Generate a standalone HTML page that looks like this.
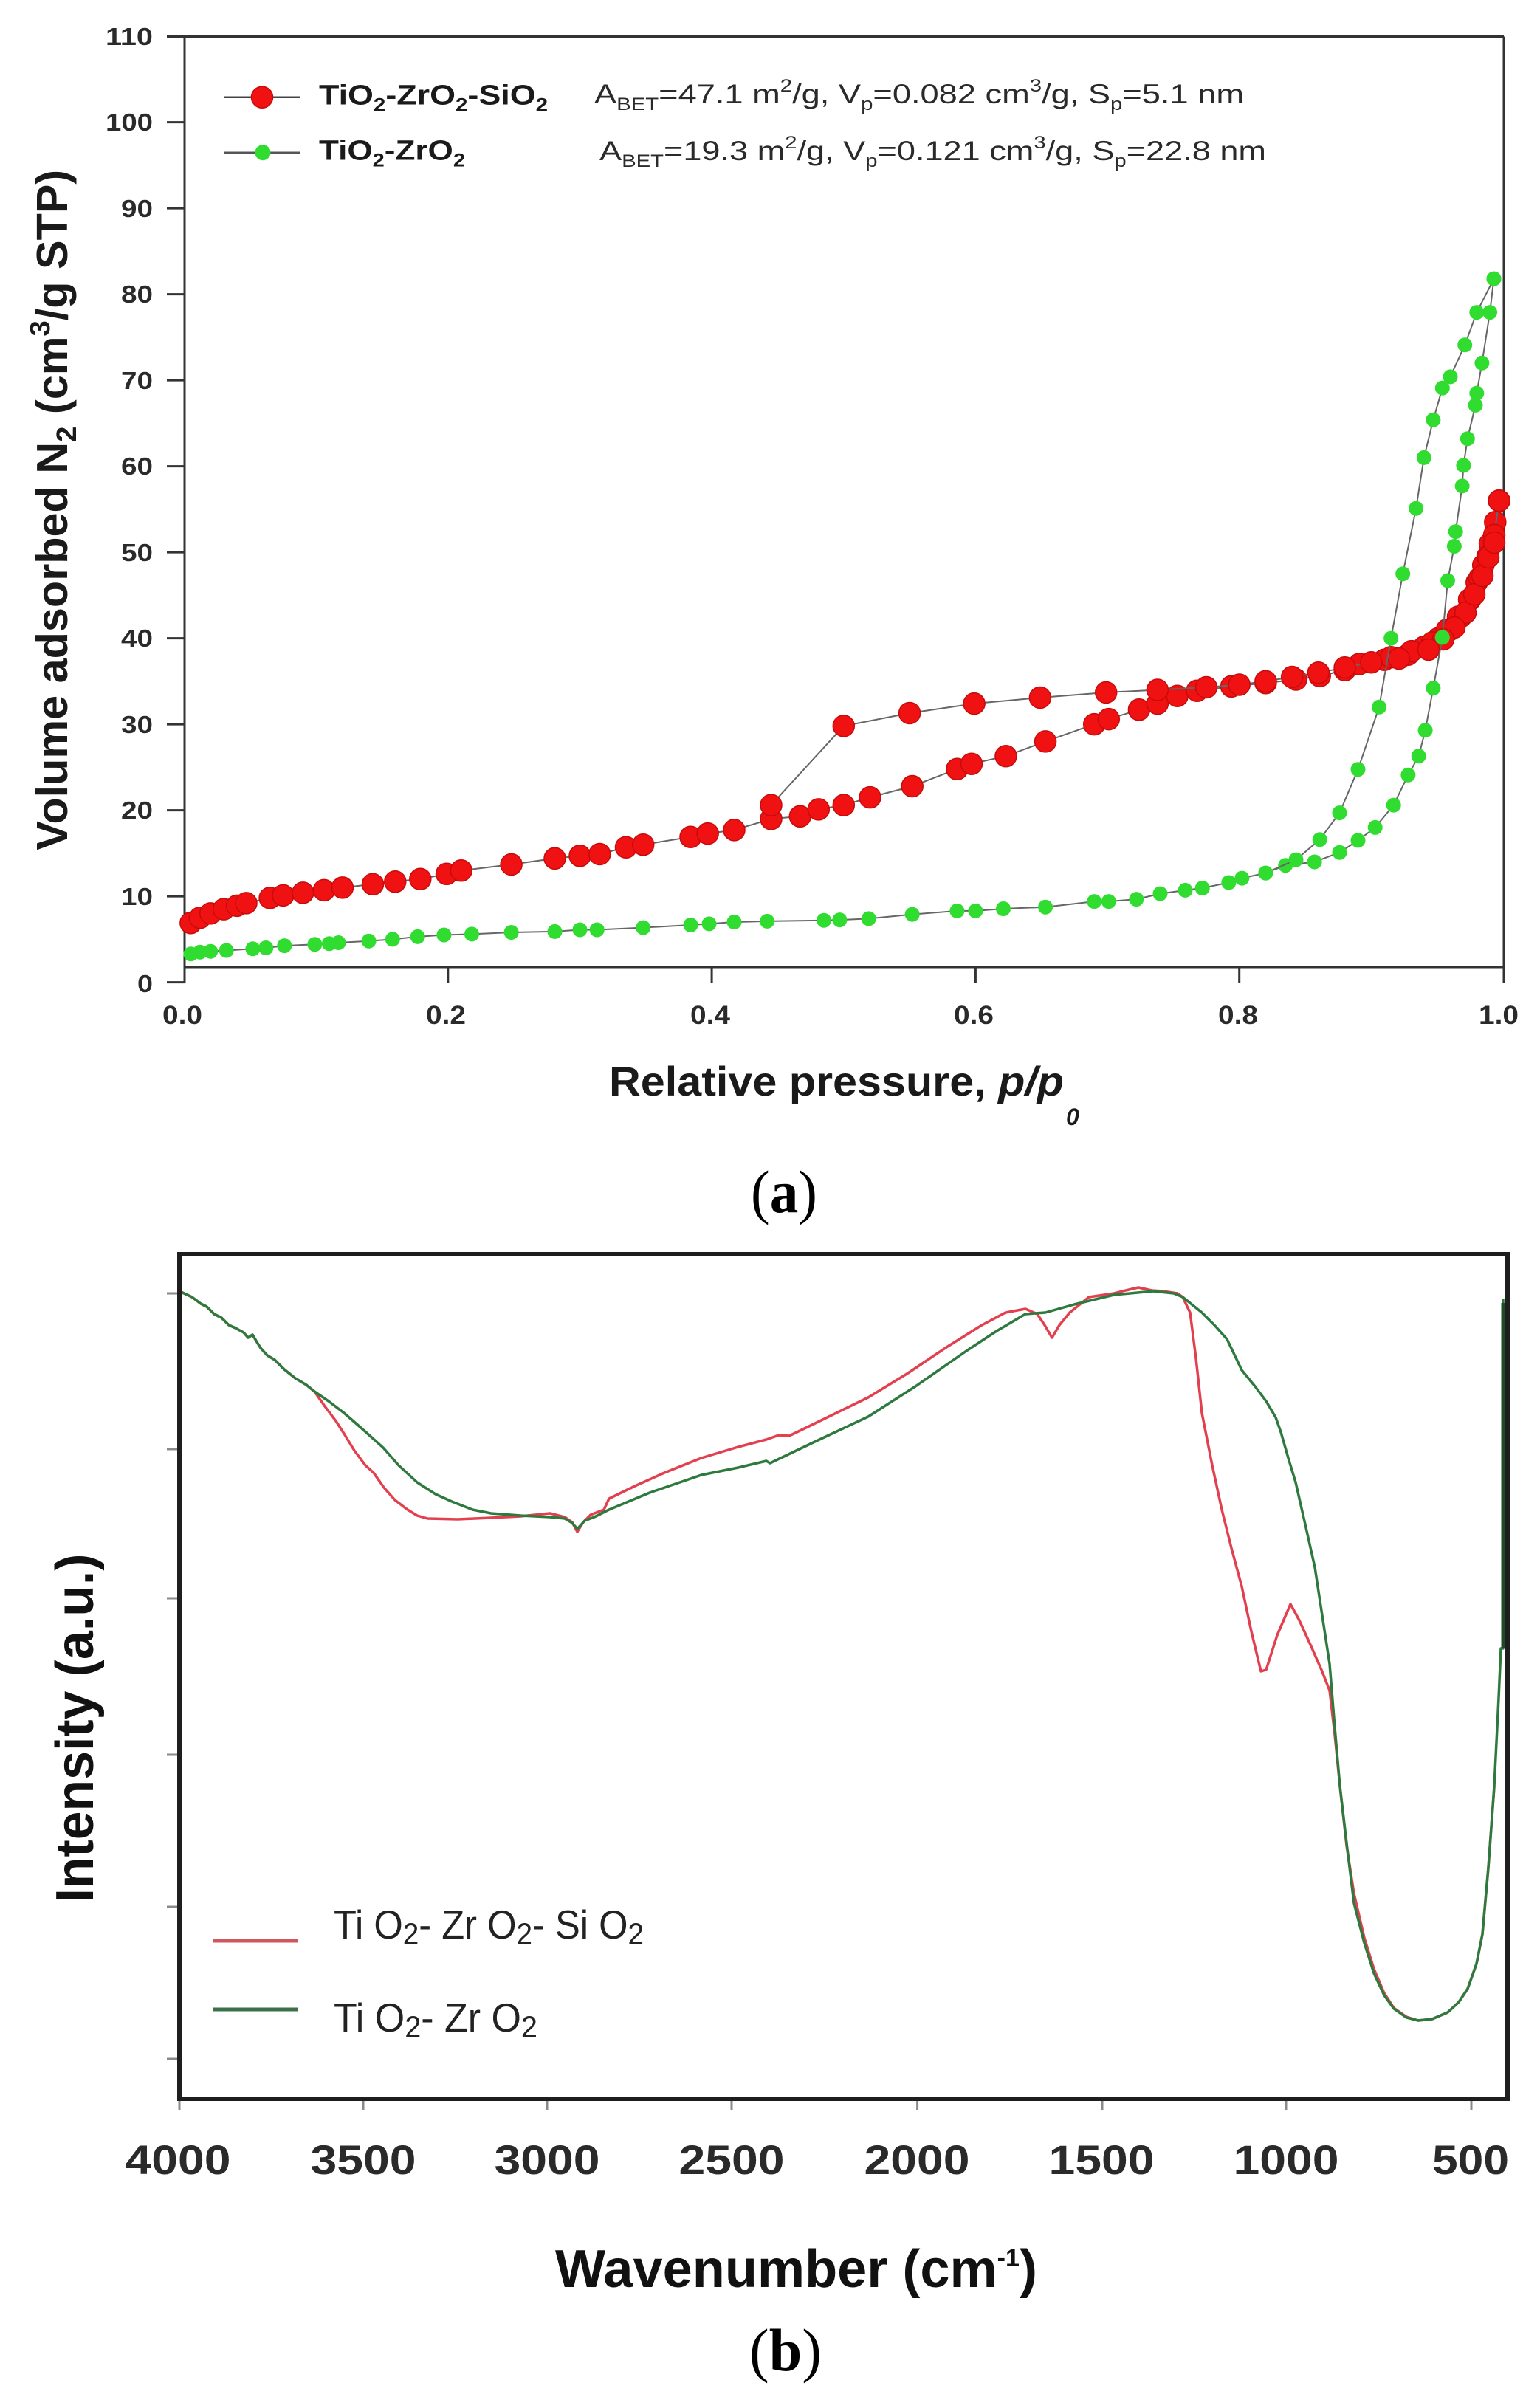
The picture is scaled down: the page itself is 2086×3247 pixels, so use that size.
<!DOCTYPE html>
<html>
<head>
<meta charset="utf-8">
<style>
html,body{margin:0;padding:0;background:#ffffff;}
body{width:2086px;height:3247px;overflow:hidden;}
svg{display:block;}
</style>
</head>
<body>
<svg xmlns="http://www.w3.org/2000/svg" width="2086" height="3247" viewBox="0 0 2086 3247">
<defs>
<marker id="mr" markerUnits="userSpaceOnUse" markerWidth="34" markerHeight="34" refX="17" refY="17" overflow="visible">
<circle cx="17" cy="17" r="14.5" fill="#f01212" stroke="#c80a0a" stroke-width="1.5"/>
</marker>
<marker id="mg" markerUnits="userSpaceOnUse" markerWidth="24" markerHeight="24" refX="12" refY="12" overflow="visible">
<circle cx="12" cy="12" r="10" fill="#2fdc2f"/>
</marker>
</defs>
<rect width="2086" height="3247" fill="#ffffff"/>

<!-- ================= Chart (a) ================= -->
<g stroke="#333" stroke-width="3" fill="none">
<line x1="226" y1="49.5" x2="2037" y2="49.5"/>
<line x1="250" y1="49.5" x2="250" y2="1331"/>
<line x1="2037" y1="49.5" x2="2037" y2="1331"/>
<line x1="250" y1="1310" x2="2037" y2="1310"/>
<!-- y ticks -->
<line x1="226" y1="165.6" x2="250" y2="165.6"/>
<line x1="226" y1="282.1" x2="250" y2="282.1"/>
<line x1="226" y1="398.6" x2="250" y2="398.6"/>
<line x1="226" y1="515.1" x2="250" y2="515.1"/>
<line x1="226" y1="631.6" x2="250" y2="631.6"/>
<line x1="226" y1="748.1" x2="250" y2="748.1"/>
<line x1="226" y1="864.6" x2="250" y2="864.6"/>
<line x1="226" y1="981.1" x2="250" y2="981.1"/>
<line x1="226" y1="1097.6" x2="250" y2="1097.6"/>
<line x1="226" y1="1214.1" x2="250" y2="1214.1"/>
<line x1="226" y1="1330.6" x2="250" y2="1330.6"/>
<!-- x ticks -->
<line x1="606.8" y1="1310" x2="606.8" y2="1331"/>
<line x1="964.1" y1="1310" x2="964.1" y2="1331"/>
<line x1="1321.4" y1="1310" x2="1321.4" y2="1331"/>
<line x1="1678.7" y1="1310" x2="1678.7" y2="1331"/>
</g>

<g font-family="Liberation Sans, Arial, sans-serif" font-weight="bold" font-size="33" fill="#2a2a2a" text-anchor="end">
<text x="207" y="61" textLength="64" lengthAdjust="spacingAndGlyphs">110</text>
<text x="207" y="177" textLength="64" lengthAdjust="spacingAndGlyphs">100</text>
<text x="207" y="294" textLength="43" lengthAdjust="spacingAndGlyphs">90</text>
<text x="207" y="410" textLength="43" lengthAdjust="spacingAndGlyphs">80</text>
<text x="207" y="527" textLength="43" lengthAdjust="spacingAndGlyphs">70</text>
<text x="207" y="643" textLength="43" lengthAdjust="spacingAndGlyphs">60</text>
<text x="207" y="760" textLength="43" lengthAdjust="spacingAndGlyphs">50</text>
<text x="207" y="876" textLength="43" lengthAdjust="spacingAndGlyphs">40</text>
<text x="207" y="993" textLength="43" lengthAdjust="spacingAndGlyphs">30</text>
<text x="207" y="1109" textLength="43" lengthAdjust="spacingAndGlyphs">20</text>
<text x="207" y="1226" textLength="43" lengthAdjust="spacingAndGlyphs">10</text>
<text x="207" y="1344" textLength="21" lengthAdjust="spacingAndGlyphs">0</text>
</g>
<g font-family="Liberation Sans, Arial, sans-serif" font-weight="bold" font-size="35" fill="#2a2a2a" text-anchor="middle">
<text x="247" y="1387" textLength="54" lengthAdjust="spacingAndGlyphs">0.0</text>
<text x="604" y="1387" textLength="54" lengthAdjust="spacingAndGlyphs">0.2</text>
<text x="962" y="1387" textLength="54" lengthAdjust="spacingAndGlyphs">0.4</text>
<text x="1319" y="1387" textLength="54" lengthAdjust="spacingAndGlyphs">0.6</text>
<text x="1677" y="1387" textLength="54" lengthAdjust="spacingAndGlyphs">0.8</text>
<text x="2030" y="1387" textLength="54" lengthAdjust="spacingAndGlyphs">1.0</text>
</g>

<!-- axis titles (a) -->
<text x="825" y="1484" font-family="Liberation Sans, Arial, sans-serif" font-weight="bold" font-size="56" fill="#1a1a1a" textLength="616" lengthAdjust="spacingAndGlyphs">Relative pressure, <tspan font-style="italic">p/p</tspan></text>
<text x="1444" y="1524" font-family="Liberation Sans, Arial, sans-serif" font-weight="bold" font-style="italic" font-size="32" fill="#1a1a1a">0</text>

<text x="91" y="690.8" transform="rotate(-90 91 690.8)" text-anchor="middle" font-family="Liberation Sans, Arial, sans-serif" font-weight="bold" font-size="59" fill="#1a1a1a" textLength="922" lengthAdjust="spacingAndGlyphs">Volume adsorbed N<tspan font-size="38" dy="12">2</tspan><tspan dy="-12"> (cm</tspan><tspan font-size="38" dy="-24">3</tspan><tspan dy="24">/g STP)</tspan></text>

<!-- legend (a) -->
<line x1="303" y1="131.7" x2="407" y2="131.7" stroke="#444" stroke-width="2.5"/>
<circle cx="355" cy="131.7" r="14.5" fill="#f01212" stroke="#c80a0a" stroke-width="1.5"/>
<line x1="303" y1="206.7" x2="407" y2="206.7" stroke="#555" stroke-width="2.5"/>
<circle cx="356" cy="206.7" r="10.5" fill="#2fdc2f"/>
<g font-family="Liberation Sans, Arial, sans-serif" font-weight="bold" font-size="38" fill="#1a1a1a">
<text x="432" y="141.7" textLength="310" lengthAdjust="spacingAndGlyphs">TiO<tspan font-size="25" dy="9">2</tspan><tspan dy="-9">-ZrO</tspan><tspan font-size="25" dy="9">2</tspan><tspan dy="-9">-SiO</tspan><tspan font-size="25" dy="9">2</tspan></text>
<text x="432" y="216.7" textLength="198" lengthAdjust="spacingAndGlyphs">TiO<tspan font-size="25" dy="9">2</tspan><tspan dy="-9">-ZrO</tspan><tspan font-size="25" dy="9">2</tspan></text>
</g>
<g font-family="Liberation Sans, Arial, sans-serif" font-size="37" fill="#2a2a2a">
<text x="805" y="140" textLength="880" lengthAdjust="spacingAndGlyphs">A<tspan font-size="24" dy="9">BET</tspan><tspan dy="-9">=47.1 m</tspan><tspan font-size="24" dy="-16">2</tspan><tspan dy="16">/g, V</tspan><tspan font-size="24" dy="9">p</tspan><tspan dy="-9">=0.082 cm</tspan><tspan font-size="24" dy="-16">3</tspan><tspan dy="16">/g, S</tspan><tspan font-size="24" dy="9">p</tspan><tspan dy="-9">=5.1 nm</tspan></text>
<text x="812" y="217" textLength="903" lengthAdjust="spacingAndGlyphs">A<tspan font-size="24" dy="9">BET</tspan><tspan dy="-9">=19.3 m</tspan><tspan font-size="24" dy="-16">2</tspan><tspan dy="16">/g, V</tspan><tspan font-size="24" dy="9">p</tspan><tspan dy="-9">=0.121 cm</tspan><tspan font-size="24" dy="-16">3</tspan><tspan dy="16">/g, S</tspan><tspan font-size="24" dy="9">p</tspan><tspan dy="-9">=22.8 nm</tspan></text>
</g>

<!-- data (a): red -->
<g fill="none" stroke="#666" stroke-width="2">
<polyline marker-start="url(#mr)" marker-mid="url(#mr)" marker-end="url(#mr)" points="258.4,1250.2 270.9,1243.2 285.2,1237.4 303.1,1231.6 321.0,1226.9 333.5,1223.4 365.6,1216.4 383.5,1212.9 410.3,1209.4 438.9,1205.9 463.9,1202.4 505.0,1197.8 535.3,1194.3 569.3,1190.8 605.0,1183.8 624.7,1179.2 692.6,1171.0 751.5,1162.8 785.5,1159.3 812.3,1157.0 848.0,1147.7 871.2,1144.2 935.5,1133.7 958.7,1129.1 994.5,1124.4 1044.5,1109.3 1083.8,1105.8 1108.8,1096.4 1142.8,1090.6 1178.5,1080.1 1235.7,1065.0 1296.4,1041.7 1316.0,1034.7 1362.5,1024.2 1416.1,1004.4 1482.2,981.1 1501.8,974.1 1542.9,961.3 1567.9,953.1 1594.7,942.7 1621.5,935.7 1668.0,929.8 1714.4,925.2 1755.5,920.5 1787.7,915.9 1821.6,907.7 1841.3,899.5 1875.2,893.7 1907.4,886.7 1928.8,876.3 1948.4,864.6 1964.5,853.0 1978.8,835.5 1991.3,812.2 2000.3,788.9 2009.2,765.6 2018.1,736.5 2025.3,707.3 2030.6,678.2"/>
<polyline marker-start="url(#mr)" marker-mid="url(#mr)" marker-end="url(#mr)" points="2030.6,678.2 2024,724.8 2015,753.9 2004,783.1 1990,812.2 1975,835.5 1960,853.0 1940,870.4 1912,882.1 1884.2,890.2 1857.4,897.2 1821.6,904.2 1785.9,911.2 1750.2,917.0 1714.4,922.9 1678.7,927.5 1634.0,931.0 1567.9,934.5 1498.2,938.0 1408.9,945.0 1319.6,953.1 1232.1,966.0 1142.8,983.4 1044.5,1090.6"/>
</g>
<!-- extra red density near p~1 -->
<g fill="#f01212" stroke="#c80a0a" stroke-width="1.5">
<circle cx="1985" cy="830" r="14.5"/><circle cx="1997" cy="805" r="14.5"/><circle cx="2008" cy="780" r="14.5"/>
<circle cx="2016" cy="755" r="14.5"/><circle cx="2024" cy="735" r="14.5"/><circle cx="1970" cy="850" r="14.5"/>
<circle cx="1955" cy="866" r="14.5"/><circle cx="1935" cy="880" r="14.5"/><circle cx="1895" cy="892" r="14.5"/>
</g>

<!-- data (a): green -->
<g fill="none" stroke="#666" stroke-width="2">
<polyline marker-start="url(#mg)" marker-mid="url(#mg)" marker-end="url(#mg)" points="258.4,1292.2 270.9,1289.8 285.2,1288.7 306.7,1287.5 342.4,1285.2 360.3,1284.0 385.3,1281.1 426.4,1279.3 446.0,1278.2 458.5,1277.0 499.6,1274.7 531.8,1272.4 565.7,1268.9 601.4,1266.5 639.0,1265.4 692.6,1263.0 751.5,1261.9 785.5,1259.5 808.7,1259.5 871.2,1256.6 935.5,1253.0 960.5,1251.4 994.5,1249.0 1039.1,1247.9 1116.0,1246.7 1137.4,1246.1 1176.7,1244.4 1235.7,1238.6 1296.4,1233.9 1321.4,1233.9 1359.0,1231.0 1416.1,1228.7 1482.2,1221.1 1501.8,1221.1 1539.3,1218.1 1571.5,1210.6 1605.5,1205.9 1628.7,1203.0 1664.4,1195.5 1682.3,1189.6 1714.4,1182.6 1741.2,1172.2 1780.6,1167.5 1814.5,1154.7 1839.5,1138.4 1862.7,1120.9 1887.7,1090.6 1907.4,1049.8 1921.7,1024.2 1930.6,989.3 1941.4,932.2 1953.8,863.4 1961.0,786.5 1969.9,740.0 1971.7,720.1 1980.6,658.4 1982.4,630.4 1987.8,594.3 1998.5,548.9 2000.3,532.6 2007.4,491.8 2018.1,423.1 2023.5,377.6"/>
<polyline marker-start="url(#mg)" marker-mid="url(#mg)" marker-end="url(#mg)" points="2023.5,377.6 2000.3,423.1 1984.2,467.3 1964.5,510.4 1953.8,525.6 1941.4,568.7 1928.8,619.9 1918.1,688.7 1900.2,777.2 1884.2,864.6 1868.1,957.8 1839.5,1042.2 1814.5,1101.1 1787.7,1137.2 1755.5,1164.6 1714.4,1182.6"/>
</g>

<!-- caption (a) -->
<text x="1062" y="1642" text-anchor="middle" font-family="Liberation Serif, Times New Roman, serif" font-size="82" fill="#000" textLength="90" lengthAdjust="spacingAndGlyphs">(<tspan font-weight="bold">a</tspan>)</text>

<!-- ================= Chart (b) ================= -->
<!-- curves -->
<g fill="none" stroke-width="3.5" stroke-linejoin="round">
<polyline stroke="#e2404e" points="243,1749 260,1757 272,1766 280,1770 290,1780 300,1785 310,1795 319,1799 330,1805 336,1812 342,1808 348,1818 353,1826 362,1836 372,1842 385,1855 400,1867 415,1876 426,1885 440,1905 455,1925 466,1942 480,1965 495,1985 506,1995 520,2015 535,2032 552,2045 565,2053 579,2057 620,2058 665,2056 705,2054 745,2050 765,2055 775,2062 782,2075 790,2062 800,2052 818,2045 825,2030 860,2013 900,1995 950,1975 1000,1960 1038,1950 1055,1944 1069,1945 1100,1930 1176,1893 1230,1860 1282,1825 1330,1795 1362,1778 1389,1773 1405,1780 1415,1795 1425,1812 1435,1795 1449,1778 1475,1757 1509,1752 1525,1748 1542,1744 1560,1748 1575,1749 1595,1752 1602,1757 1612,1778 1620,1840 1628,1914 1642,1985 1655,2045 1668,2097 1682,2149 1695,2210 1708,2264 1715,2262 1730,2215 1748,2173 1760,2195 1775,2228 1790,2262 1801,2290 1808,2350 1815,2420 1824,2500 1834,2565 1848,2625 1861,2667 1875,2700 1888,2720 1905,2732 1921,2737 1940,2735 1961,2726 1976,2712 1988,2694 2000,2660 2008,2620 2016,2530 2024,2420"/>
<polyline stroke="#2e7a3e" points="243,1749 260,1757 272,1766 280,1770 290,1780 300,1785 310,1795 319,1799 330,1805 336,1812 342,1808 348,1818 353,1826 362,1836 372,1842 385,1855 400,1867 415,1876 426,1885 445,1898 466,1914 490,1935 519,1961 540,1985 565,2008 590,2024 612,2034 640,2045 665,2050 705,2053 745,2055 765,2057 775,2063 782,2071 792,2060 805,2055 825,2045 880,2022 950,1998 1000,1988 1038,1979 1043,1982 1110,1950 1176,1919 1240,1878 1309,1830 1350,1803 1389,1780 1416,1778 1455,1767 1509,1754 1562,1749 1590,1752 1602,1757 1628,1778 1645,1795 1662,1814 1672,1835 1682,1856 1700,1878 1715,1898 1728,1920 1735,1940 1745,1975 1755,2008 1768,2065 1781,2123 1801,2254 1808,2340 1815,2420 1825,2505 1834,2578 1848,2632 1861,2673 1875,2703 1888,2721 1905,2733 1921,2737 1940,2735 1961,2726 1976,2712 1988,2694 2000,2660 2008,2620 2016,2530 2024,2420 2030,2300 2033,2233 2036,2233 2036,1760"/>
</g>
<line x1="2036" y1="1765" x2="2036" y2="2233" stroke="#1f4a25" stroke-width="5"/>

<!-- frame -->
<rect x="243" y="1699" width="1799" height="1144" fill="none" stroke="#1e1e1e" stroke-width="6"/>
<!-- ticks -->
<g stroke="#8a8a8a" stroke-width="3">
<line x1="226" y1="1752" x2="240" y2="1752"/>
<line x1="226" y1="1963" x2="240" y2="1963"/>
<line x1="226" y1="2165" x2="240" y2="2165"/>
<line x1="226" y1="2377" x2="240" y2="2377"/>
<line x1="226" y1="2583" x2="240" y2="2583"/>
<line x1="226" y1="2789" x2="240" y2="2789"/>
<line x1="243" y1="2846" x2="243" y2="2858"/>
<line x1="492" y1="2846" x2="492" y2="2858"/>
<line x1="741" y1="2846" x2="741" y2="2858"/>
<line x1="991" y1="2846" x2="991" y2="2858"/>
<line x1="1242.6" y1="2846" x2="1242.6" y2="2858"/>
<line x1="1493" y1="2846" x2="1493" y2="2858"/>
<line x1="1742" y1="2846" x2="1742" y2="2858"/>
<line x1="1993" y1="2846" x2="1993" y2="2858"/>
</g>
<g font-family="Liberation Sans, Arial, sans-serif" font-weight="bold" font-size="56" fill="#2a2a2a" text-anchor="middle">
<text x="241" y="2945" textLength="143" lengthAdjust="spacingAndGlyphs">4000</text>
<text x="492" y="2945" textLength="143" lengthAdjust="spacingAndGlyphs">3500</text>
<text x="741" y="2945" textLength="143" lengthAdjust="spacingAndGlyphs">3000</text>
<text x="991" y="2945" textLength="143" lengthAdjust="spacingAndGlyphs">2500</text>
<text x="1242" y="2945" textLength="143" lengthAdjust="spacingAndGlyphs">2000</text>
<text x="1492" y="2945" textLength="143" lengthAdjust="spacingAndGlyphs">1500</text>
<text x="1742" y="2945" textLength="143" lengthAdjust="spacingAndGlyphs">1000</text>
<text x="1992" y="2945" textLength="104" lengthAdjust="spacingAndGlyphs">500</text>
</g>

<!-- axis titles (b) -->
<text x="752" y="3098" font-family="Liberation Sans, Arial, sans-serif" font-weight="bold" font-size="72" fill="#111" textLength="653" lengthAdjust="spacingAndGlyphs">Wavenumber (cm<tspan font-size="34" dy="-28">-1</tspan><tspan dy="28">)</tspan></text>
<text x="126" y="2341" transform="rotate(-90 126 2341)" text-anchor="middle" font-family="Liberation Sans, Arial, sans-serif" font-weight="bold" font-size="72" fill="#111" textLength="473" lengthAdjust="spacingAndGlyphs">Intensity (a.u.)</text>

<!-- legend (b) -->
<line x1="289" y1="2629" x2="404" y2="2629" stroke="#d0575e" stroke-width="5"/>
<line x1="289" y1="2722" x2="404" y2="2722" stroke="#3b7048" stroke-width="5"/>
<g font-family="Liberation Sans, Arial, sans-serif" font-size="55" fill="#222">
<text x="452" y="2626" textLength="420" lengthAdjust="spacingAndGlyphs">Ti O<tspan font-size="42" dy="8">2</tspan><tspan dy="-8">- Zr O</tspan><tspan font-size="42" dy="8">2</tspan><tspan dy="-8">- Si O</tspan><tspan font-size="42" dy="8">2</tspan></text>
<text x="452" y="2752" textLength="276" lengthAdjust="spacingAndGlyphs">Ti O<tspan font-size="42" dy="8">2</tspan><tspan dy="-8">- Zr O</tspan><tspan font-size="42" dy="8">2</tspan></text>
</g>

<!-- caption (b) -->
<text x="1064" y="3211" text-anchor="middle" font-family="Liberation Serif, Times New Roman, serif" font-size="82" fill="#000" textLength="98" lengthAdjust="spacingAndGlyphs">(<tspan font-weight="bold">b</tspan>)</text>
</svg>
</body>
</html>
